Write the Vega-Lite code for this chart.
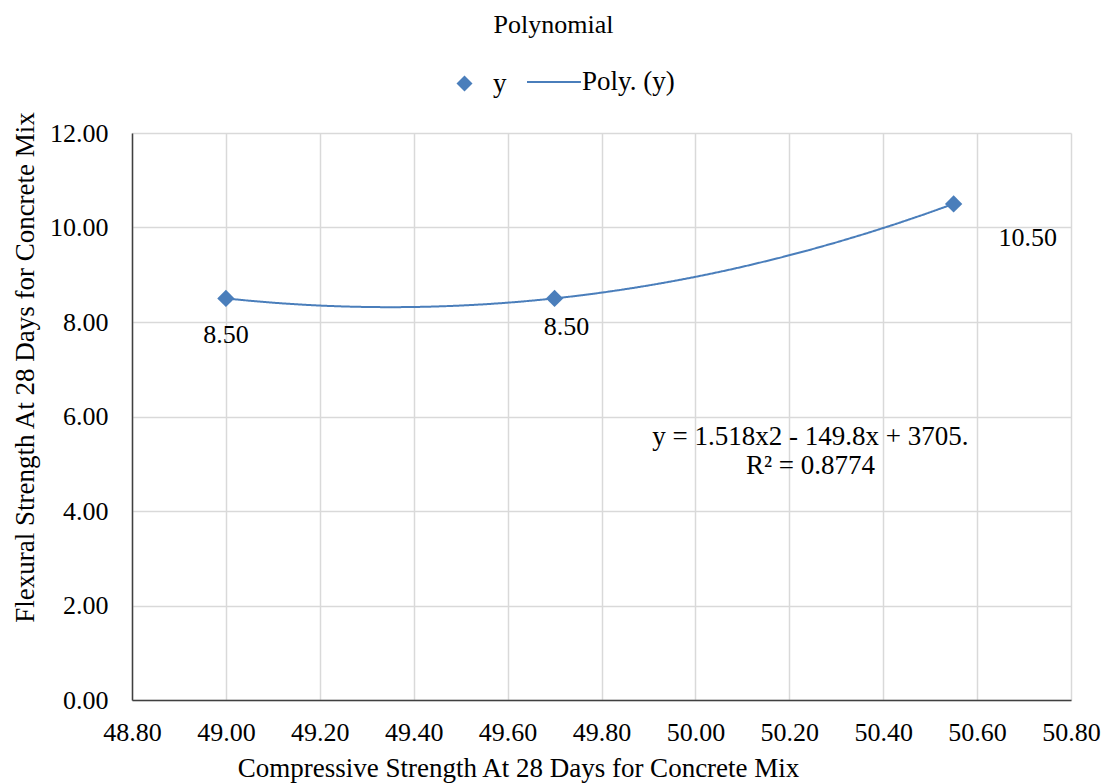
{
  "$schema": "https://vega.github.io/schema/vega-lite/v6.json",
  "autosize": {"type": "none"},
  "width": 939,
  "height": 567,
  "padding": {"left": 132, "top": 133, "right": 34, "bottom": 84},
  "background": "white",
  "config": {
    "font": "Liberation Serif",
    "view": {"stroke": null},
    "axis": {"labelFont": "Liberation Serif", "titleFont": "Liberation Serif", "labelColor": "#000000", "titleColor": "#000000", "titleFontWeight": "normal", "gridColor": "#d9d9d9", "gridWidth": 1.5, "domainColor": "#404040", "domainWidth": 1.5, "ticks": false}
  },
  "title": {"text": "Polynomial", "font": "Liberation Serif", "fontSize": 26, "fontWeight": "normal", "color": "#000000", "dx": -48, "offset": 16},
  "datasets": {
    "pts": [
      {"x": 49.0, "y": 8.5},
      {"x": 49.7, "y": 8.5},
      {"x": 50.55, "y": 10.5}
    ],
    "eq": [
      {"x": 50.245, "y": 5.57, "text": "y = 1.518x2 - 149.8x + 3705.\nR² = 0.8774"}
    ]
  },
  "encoding": {
    "x": {"field": "x", "type": "quantitative", "scale": {"domain": [48.8, 50.8], "nice": false, "zero": false},
      "axis": {"values": [48.8, 49.0, 49.2, 49.4, 49.6, 49.8, 50.0, 50.2, 50.4, 50.6, 50.8], "format": ".2f", "labelFlush": false, "labelFontSize": 26, "labelPadding": 19, "titleFontSize": 27, "title": "Compressive Strength At 28 Days for Concrete Mix", "titleX": 386, "titleY": 68, "titleBaseline": "middle"}},
    "y": {"field": "y", "type": "quantitative", "scale": {"domain": [0, 12], "nice": false},
      "axis": {"values": [0, 2, 4, 6, 8, 10, 12], "format": ".2f", "labelFontSize": 26, "labelPadding": 24, "titleFontSize": 27, "title": "Flexural Strength At 28 Days for Concrete Mix", "titleX": -107, "titleY": 234, "titleBaseline": "middle", "titleAngle": -90}}
  },
  "layer": [
    {
      "data": {"name": "pts"},
      "transform": [{"regression": "y", "on": "x", "method": "poly", "order": 2}],
      "mark": {"type": "line", "color": "#4a7ebb", "strokeWidth": 2},
      "encoding": {
        "strokeDash": {"datum": "Poly. (y)", "type": "nominal", "scale": {"domain": ["Poly. (y)"], "range": [[1, 0]]},
          "legend": {"title": null, "orient": "none", "legendX": 394, "legendY": -79, "symbolType": "stroke", "symbolSize": 2916, "symbolStrokeColor": "#4a7ebb", "symbolStrokeWidth": 2, "labelFont": "Liberation Serif", "labelFontSize": 27, "labelColor": "#000000", "labelOffset": 0}}
      }
    },
    {
      "data": {"name": "pts"},
      "mark": {"type": "point", "filled": true, "size": 300, "opacity": 1, "color": "#4a7ebb"},
      "encoding": {
        "shape": {"datum": "y", "type": "nominal", "scale": {"domain": ["y"], "range": ["diamond"]},
          "legend": {"title": null, "orient": "none", "legendX": 319, "legendY": -63, "symbolSize": 256, "symbolFillColor": "#4a7ebb", "symbolStrokeColor": "#4a7ebb", "labelFont": "Liberation Serif", "labelFontSize": 27, "labelColor": "#000000", "labelOffset": 15}}
      }
    },
    {
      "data": {"name": "pts"},
      "transform": [{"filter": "datum.x < 49.5"}],
      "mark": {"type": "text", "fontSize": 26, "font": "Liberation Serif", "color": "#000000", "dy": 37},
      "encoding": {"text": {"field": "y", "type": "quantitative", "format": ".2f"}}
    },
    {
      "data": {"name": "pts"},
      "transform": [{"filter": "datum.x > 49.5 && datum.x < 50"}],
      "mark": {"type": "text", "fontSize": 26, "font": "Liberation Serif", "color": "#000000", "dx": 12, "dy": 29},
      "encoding": {"text": {"field": "y", "type": "quantitative", "format": ".2f"}}
    },
    {
      "data": {"name": "pts"},
      "transform": [{"filter": "datum.x > 50"}],
      "mark": {"type": "text", "fontSize": 26, "font": "Liberation Serif", "color": "#000000", "dx": 74, "dy": 34},
      "encoding": {"text": {"field": "y", "type": "quantitative", "format": ".2f"}}
    },
    {
      "data": {"name": "eq"},
      "mark": {"type": "text", "fontSize": 27, "font": "Liberation Serif", "color": "#000000", "lineBreak": "\n", "lineHeight": 29, "baseline": "middle", "align": "center"},
      "encoding": {"text": {"field": "text", "type": "nominal"}}
    }
  ]
}
